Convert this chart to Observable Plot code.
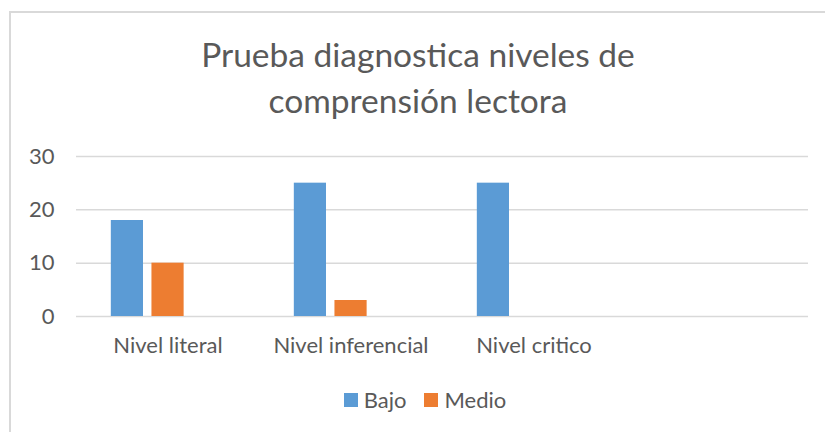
<!DOCTYPE html>
<html>
<head>
<meta charset="utf-8">
<script src="https://cdn.jsdelivr.net/npm/d3@7"></script>
<script src="https://cdn.jsdelivr.net/npm/@observablehq/plot@0.6"></script>
<style>
  html, body { margin: 0; padding: 0; background: #fff; overflow: hidden; width: 825px; height: 432px; }
  body { position: relative; font-family: Lato, "Open Sans", sans-serif; color: #595959; }
  #frame { position: absolute; left: 9px; top: 11px; width: 900px; height: 500px;
           border-top: 2px solid #d9d9d9; border-left: 2px solid #d9d9d9; box-sizing: border-box; }
  #title { position: absolute; left: 10px; width: 816px; top: 31px; text-align: center;
           font-size: 33.5px; line-height: 46px; color: #595959; }
  #chart { position: absolute; left: 0; top: 130px; }
  #legend { position: absolute; left: 0; width: 850px; top: 386px; display: flex; justify-content: center;
            align-items: center; font-size: 22px; color: #595959; }
  .item { display: flex; align-items: center; margin: 0 9px; }
  .sw { width: 14px; height: 14px; margin-right: 6px; }
</style>
</head>
<body>
<div id="frame"></div>
<div id="title">Prueba diagnostica niveles de<br>comprensión lectora</div>
<div id="chart"></div>
<div id="legend"></div>
<script>
const categories = ["Nivel literal", "Nivel inferencial", "Nivel critico", ""];
const seriesNames = ["Bajo", "Medio"];
const bajo = [18, 25, 25, null];
const medio = [10, 3, 0, null];
const yTicks = [0, 10, 20, 30];
const colors = ["#5b9bd5", "#ed7d31"];

const rows = [];
categories.forEach((c, i) => {
  rows.push({category: c, series: "Bajo", value: bajo[i]});
  rows.push({category: c, series: "Medio", value: medio[i]});
});

const chart = Plot.plot({
  width: 825,
  height: 250,
  marginTop: 26,
  marginBottom: 64,
  marginLeft: 74,
  marginRight: 16,
  style: {fontFamily: "Lato, 'Open Sans', sans-serif", fontSize: "22px", color: "#595959", background: "transparent"},
  fx: {domain: categories, padding: 0, axis: "bottom", tickSize: 0, tickPadding: 21, label: null},
  x: {domain: seriesNames, axis: null, paddingInner: 0.208, paddingOuter: 1.356, align: 0.316, round: false},
  y: {domain: [0, 30], ticks: yTicks, tickSize: 0, tickPadding: 22, label: null, tickFormat: d => d},
  color: {domain: seriesNames, range: colors},
  facet: {data: rows, x: "category"},
  marks: [
    Plot.ruleY(yTicks, {stroke: "#d9d9d9", strokeWidth: 1.5}),
    Plot.barY(rows, {fx: "category", x: "series", y: "value", fill: "series"})
  ]
});
document.getElementById("chart").appendChild(chart);

const legend = document.getElementById("legend");
seriesNames.forEach((s, i) => {
  const it = document.createElement("div");
  it.className = "item";
  const sw = document.createElement("div");
  sw.className = "sw";
  sw.style.background = colors[i];
  const t = document.createElement("span");
  t.textContent = s;
  it.appendChild(sw); it.appendChild(t);
  legend.appendChild(it);
});
</script>
</body>
</html>
